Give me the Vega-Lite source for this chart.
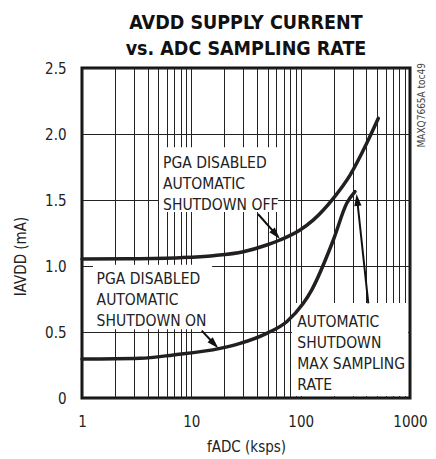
{
  "$schema": "https://vega.github.io/schema/vega-lite/v6.json",
  "width": 328,
  "height": 330,
  "autosize": {"type": "none"},
  "padding": {"left": 82, "top": 68, "right": 26, "bottom": 61},
  "background": "white",
  "config": {
    "view": {"stroke": "#111", "strokeWidth": 3},
    "font": "DejaVu Sans Condensed, sans-serif"
  },
  "title": {
    "text": ["AVDD SUPPLY CURRENT", "vs. ADC SAMPLING RATE"],
    "font": "DejaVu Sans Condensed, sans-serif",
    "fontSize": 19.5,
    "fontWeight": "bold",
    "color": "#111",
    "anchor": "middle",
    "frame": "group",
    "lineHeight": 26,
    "offset": 2
  },
  "datasets": {
    "curves": [
      {"series": "off", "x": 1, "y": 1.053},
      {"series": "off", "x": 2.75, "y": 1.055},
      {"series": "off", "x": 7.87, "y": 1.063},
      {"series": "off", "x": 15.9, "y": 1.078},
      {"series": "off", "x": 29.9, "y": 1.108},
      {"series": "off", "x": 48.9, "y": 1.159},
      {"series": "off", "x": 64.7, "y": 1.197},
      {"series": "off", "x": 98.6, "y": 1.273},
      {"series": "off", "x": 130, "y": 1.348},
      {"series": "off", "x": 199, "y": 1.513},
      {"series": "off", "x": 283, "y": 1.689},
      {"series": "off", "x": 402, "y": 1.93},
      {"series": "off", "x": 513, "y": 2.119},
      {"series": "on", "x": 1, "y": 0.295},
      {"series": "on", "x": 3.39, "y": 0.301},
      {"series": "on", "x": 6.84, "y": 0.326},
      {"series": "on", "x": 18.3, "y": 0.376},
      {"series": "on", "x": 27.9, "y": 0.414},
      {"series": "on", "x": 48.9, "y": 0.49},
      {"series": "on", "x": 74.5, "y": 0.578},
      {"series": "on", "x": 105.7, "y": 0.717},
      {"series": "on", "x": 126, "y": 0.818},
      {"series": "on", "x": 199, "y": 1.197},
      {"series": "on", "x": 264, "y": 1.475},
      {"series": "on", "x": 314, "y": 1.563}
    ],
    "boxes": [
      {"x": 5.06, "x2": 62.1, "y": 1.9, "y2": 1.41},
      {"x": 1.26, "x2": 15.5, "y": 1.01, "y2": 0.52},
      {"x": 83.3, "x2": 960, "y": 0.72, "y2": 0.015}
    ],
    "arrows": [
      {"arrow": "a1", "x": 40.7, "y": 1.394, "x2": 59.5, "y2": 1.239},
      {"arrow": "a2", "x": 12.44, "y": 0.51, "x2": 16.2, "y2": 0.409},
      {"arrow": "a3", "x": 415.7, "y": 0.717, "x2": 329, "y2": 1.5}
    ],
    "notes": [
      {"x": 5.51, "y": 1.742, "text": "PGA DISABLED\nAUTOMATIC\nSHUTDOWN OFF"},
      {"x": 1.36, "y": 0.86, "text": "PGA DISABLED\nAUTOMATIC\nSHUTDOWN ON"},
      {"x": 93.2, "y": 0.54, "text": "AUTOMATIC\nSHUTDOWN\nMAX SAMPLING\nRATE"}
    ],
    "tag": [
      {"x": 1288, "y": 2.538, "text": "MAXQ7665A toc49"}
    ]
  },
  "layer": [
    {
      "data": {"name": "boxes"},
      "mark": {"type": "rect", "fill": "white", "stroke": null},
      "encoding": {
        "x": {
          "field": "x", "type": "quantitative",
          "scale": {"type": "log", "domain": [1, 1000], "nice": false},
          "axis": {
            "title": "fADC (ksps)",
            "values": [1,2,3,4,5,6,7,8,9,10,20,30,40,50,60,70,80,90,100,200,300,400,500,600,700,800,900,1000],
            "labelExpr": "indexof([1,10,100,1000], datum.value) >= 0 ? format(datum.value, 'd') : ''",
            "labelOverlap": false,
            "labelFlush": false,
            "labelFontSize": 15,
            "labelColor": "#222",
            "labelBaseline": "alphabetic",
            "labelPadding": 28,
            "ticks": false,
            "tickSize": 0,
            "domain": false,
            "grid": true,
            "gridColor": "#222",
            "gridWidth": 1,
            "gridOpacity": 1,
            "titleFontSize": 15,
            "titleFontWeight": "normal",
            "titleColor": "#222",
            "titleBaseline": "alphabetic",
            "titleY": 53,
            "titleX": 164
          }
        },
        "x2": {"field": "x2"},
        "y": {
          "field": "y", "type": "quantitative",
          "scale": {"domain": [0, 2.5], "nice": false, "zero": false},
          "axis": {
            "title": "IAVDD (mA)",
            "values": [0, 0.5, 1, 1.5, 2, 2.5],
            "labelExpr": "datum.value == 0 ? '0' : format(datum.value, '.1f')",
            "labelFontSize": 15,
            "labelColor": "#222",
            "labelPadding": 16,
            "ticks": false,
            "tickSize": 0,
            "domain": false,
            "grid": true,
            "gridColor": "#222",
            "gridWidth": 1,
            "gridOpacity": 1,
            "titleFontSize": 15,
            "titleFontWeight": "normal",
            "titleColor": "#222",
            "titleAngle": 270,
            "titleBaseline": "middle",
            "titleAlign": "center",
            "titleX": -62,
            "titleY": 188
          }
        },
        "y2": {"field": "y2"}
      }
    },
    {
      "data": {"name": "curves"},
      "mark": {"type": "line", "color": "#231f20", "strokeWidth": 3.5, "interpolate": "monotone", "strokeCap": "round"},
      "encoding": {
        "x": {"field": "x", "type": "quantitative"},
        "y": {"field": "y", "type": "quantitative"},
        "detail": {"field": "series"}
      }
    },
    {
      "data": {"name": "arrows"},
      "mark": {"type": "rule", "color": "#111", "strokeWidth": 2},
      "encoding": {
        "x": {"field": "x", "type": "quantitative"},
        "y": {"field": "y", "type": "quantitative"},
        "x2": {"field": "x2"},
        "y2": {"field": "y2"}
      }
    },
    {
      "data": {"name": "arrows"},
      "transform": [{"filter": "datum.arrow == 'a1'"}],
      "mark": {"type": "point", "shape": "M0,-1L0.6,1L-0.6,1Z", "filled": true, "color": "#111", "opacity": 1, "size": 144, "angle": 138.6},
      "encoding": {
        "x": {"field": "x2", "type": "quantitative"},
        "y": {"field": "y2", "type": "quantitative"}
      }
    },
    {
      "data": {"name": "arrows"},
      "transform": [{"filter": "datum.arrow == 'a2'"}],
      "mark": {"type": "point", "shape": "M0,-1L0.6,1L-0.6,1Z", "filled": true, "color": "#111", "opacity": 1, "size": 144, "angle": 136.5},
      "encoding": {
        "x": {"field": "x2", "type": "quantitative"},
        "y": {"field": "y2", "type": "quantitative"}
      }
    },
    {
      "data": {"name": "arrows"},
      "transform": [{"filter": "datum.arrow == 'a3'"}],
      "mark": {"type": "point", "shape": "M0,-1L0.6,1L-0.6,1Z", "filled": true, "color": "#111", "opacity": 1, "size": 144, "angle": 353.7},
      "encoding": {
        "x": {"field": "x2", "type": "quantitative"},
        "y": {"field": "y2", "type": "quantitative"}
      }
    },
    {
      "data": {"name": "notes"},
      "mark": {"type": "text", "align": "left", "baseline": "alphabetic", "lineBreak": "\n", "lineHeight": 21, "fontSize": 15.5, "color": "#222"},
      "encoding": {
        "x": {"field": "x", "type": "quantitative"},
        "y": {"field": "y", "type": "quantitative"},
        "text": {"field": "text"}
      }
    },
    {
      "data": {"name": "tag"},
      "mark": {"type": "text", "align": "right", "baseline": "middle", "angle": 270, "fontSize": 10, "color": "#444"},
      "encoding": {
        "x": {"field": "x", "type": "quantitative"},
        "y": {"field": "y", "type": "quantitative"},
        "text": {"field": "text"}
      }
    }
  ]
}
